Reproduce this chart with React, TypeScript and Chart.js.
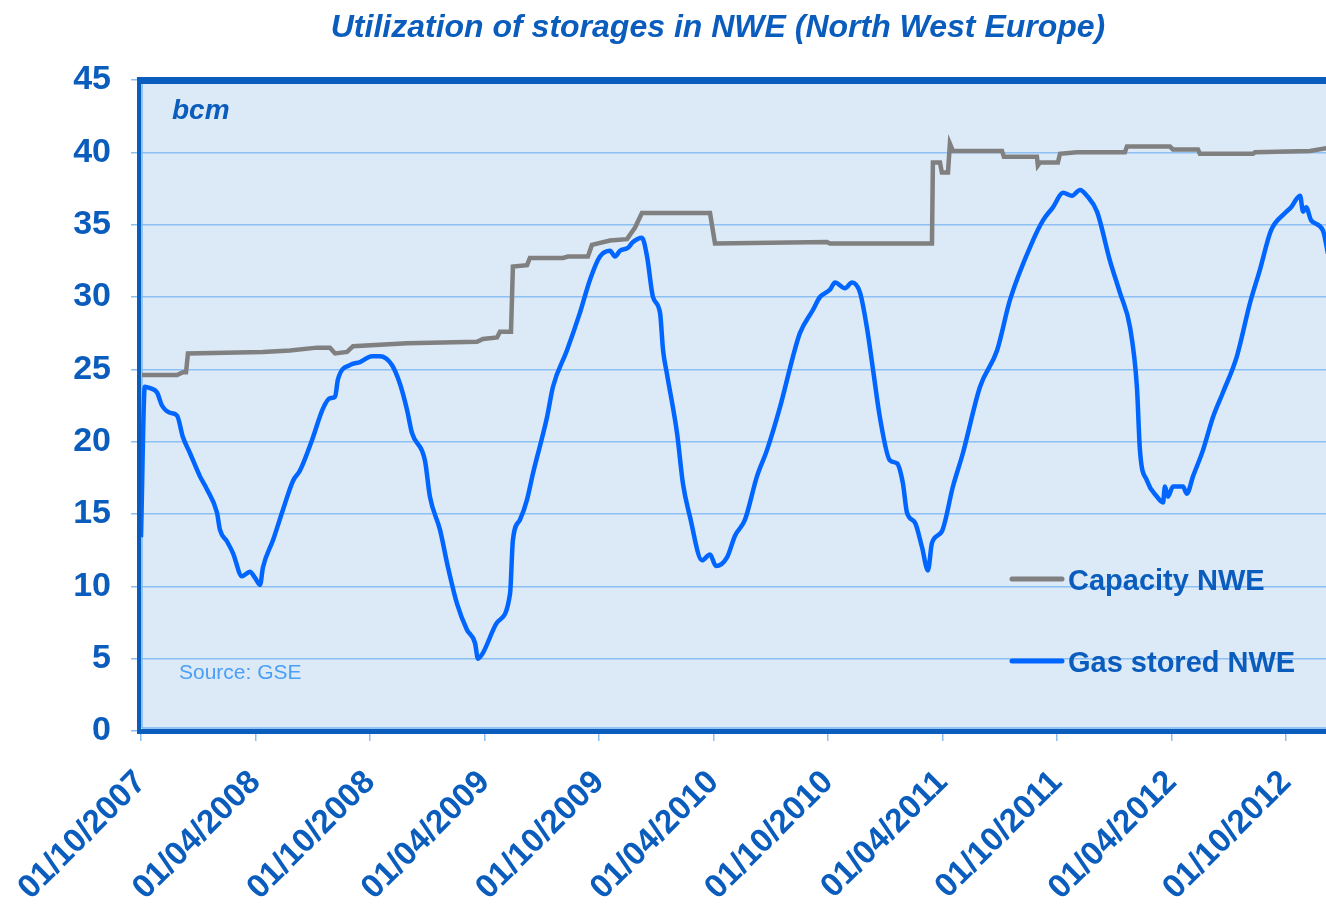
import React, { useEffect, useRef } from "react";
import { Chart, registerables } from "chart.js";

Chart.register(...registerables);

const TITLE = "Utilization of storages in NWE (North West Europe)";
const UNIT_LABEL = "bcm";
const SOURCE_LABEL = "Source: GSE";
const SERIES_NAMES = ["Gas stored NWE", "Capacity NWE"];

// x values: months since 01/10/2007
const tickMonths = [0, 6, 12, 18, 24, 30, 36, 42, 48, 54, 60];
const tickLabels = [
  "01/10/2007", "01/04/2008", "01/10/2008", "01/04/2009", "01/10/2009", "01/04/2010",
  "01/10/2010", "01/04/2011", "01/10/2011", "01/04/2012", "01/10/2012",
];
const yTickStep = 5;
const yMin = 0;
const yMax = 45;
const xMax = 62.1;

const storedMonths = [
  0, 0.2, 0.47, 0.84, 1.1, 1.52, 1.89, 2.2, 2.57, 3.09,
  3.46, 3.98, 4.14, 4.51, 4.82, 5.29, 5.71, 5.97, 6.24, 6.39,
  6.92, 7.44, 7.97, 8.33, 8.96, 9.54, 9.9, 10.17, 10.32, 10.95,
  11.48, 12.1, 12.52, 13.15, 13.57, 13.94, 14.2, 14.88, 15.14, 15.67,
  16.09, 16.56, 17.08, 17.5, 17.66, 17.92, 18.66, 19.34, 19.49, 19.86,
  20.23, 20.54, 21.28, 21.59, 22.32, 23.0, 23.53, 24.05, 24.58, 24.84,
  25.1, 25.52, 25.78, 26.25, 26.52, 26.83, 27.2, 27.36, 27.56, 28.09,
  28.4, 28.77, 29.4, 29.82, 30.13, 30.71, 31.13, 31.65, 32.28, 32.8,
  33.49, 34.17, 34.53, 35.21, 35.58, 36.1, 36.37, 36.89, 37.26, 37.68,
  38.04, 38.36, 38.72, 39.25, 39.62, 39.93, 40.14, 40.56, 40.93, 41.24,
  41.45, 41.97, 42.55, 43.07, 43.97, 44.86, 45.54, 46.74, 47.27, 47.79,
  48.32, 48.79, 49.21, 49.57, 50.1, 50.78, 51.3, 51.83, 52.19, 52.35,
  52.72, 53.24, 53.56, 53.66, 53.82, 54.08, 54.6, 54.81, 55.13, 55.65,
  56.18, 56.7, 57.43, 58.12, 58.64, 59.22, 59.95, 60.27, 60.74, 60.9,
  61.06, 61.32, 61.94, 62.2,
];
const storedBcm = [
  13.4, 23.8, 23.7, 23.4, 22.5, 22.0, 21.8, 20.3, 19.2, 17.6,
  16.7, 15.1, 13.9, 13.1, 12.3, 10.7, 11.0, 10.6, 10.1, 11.3,
  13.2, 15.3, 17.3, 18.0, 20.1, 22.3, 23.0, 23.1, 24.3, 25.3,
  25.5, 25.9, 25.9, 25.3, 24.0, 22.2, 20.6, 18.7, 16.2, 13.9,
  11.3, 8.8, 7.0, 6.1, 5.0, 5.4, 7.5, 9.5, 13.2, 14.6,
  16.0, 17.8, 21.7, 23.8, 26.3, 28.9, 31.2, 32.8, 33.2, 32.8,
  33.2, 33.4, 33.8, 34.1, 32.8, 30.0, 28.9, 26.3, 24.7, 20.6,
  17.1, 14.8, 11.8, 12.2, 11.4, 12.0, 13.5, 14.6, 17.6, 19.4,
  22.4, 25.9, 27.5, 29.1, 30.0, 30.5, 31.0, 30.6, 31.0, 30.3,
  27.9, 25.0, 21.7, 18.7, 18.5, 17.1, 15.1, 14.4, 12.7, 11.1,
  13.0, 13.8, 16.9, 19.2, 23.8, 26.3, 29.8, 33.9, 35.3, 36.2,
  37.2, 37.0, 37.4, 37.0, 35.9, 32.5, 30.3, 27.9, 23.8, 19.4,
  17.3, 16.2, 15.8, 16.9, 16.2, 16.9, 16.9, 16.4, 17.6, 19.4,
  21.7, 23.4, 25.9, 29.6, 31.9, 34.6, 35.8, 36.2, 37.0, 35.9,
  36.2, 35.3, 34.6, 33.0,
];

const capMonths = [
  0.05, 1.89, 2.2, 2.36, 2.46, 6.39, 7.81, 9.22, 9.9, 10.17,
  10.8, 11.11, 13.94, 17.61, 17.92, 18.66, 18.81, 19.39, 19.49, 20.23,
  20.38, 22.11, 22.38, 23.42, 23.63, 24.58, 25.47, 25.89, 26.25, 29.82,
  30.08, 35.95, 36.1, 41.45, 41.5, 41.87, 41.97, 42.29, 42.39, 42.55,
  45.12, 45.22, 46.95, 47.0, 47.11, 48.05, 48.16, 49.05, 51.56, 51.67,
  53.92, 54.08, 55.39, 55.49, 58.27, 58.38, 61.26, 62.2,
];
const capBcm = [
  24.6, 24.6, 24.8, 24.8, 26.1, 26.2, 26.3, 26.5, 26.5, 26.1,
  26.2, 26.6, 26.8, 26.9, 27.1, 27.2, 27.6, 27.6, 32.1, 32.2,
  32.7, 32.7, 32.8, 32.8, 33.6, 33.9, 34.0, 34.8, 35.8, 35.8,
  33.7, 33.8, 33.7, 33.7, 39.3, 39.3, 38.6, 38.6, 40.6, 40.1,
  40.1, 39.7, 39.7, 39.1, 39.3, 39.3, 39.9, 40.0, 40.0, 40.4,
  40.4, 40.2, 40.2, 39.9, 39.9, 40.0, 40.1, 40.3,
];

const FONT = '"Liberation Sans", Arial, Helvetica, sans-serif';
const TEXT_BLUE = "#0a5cbd";
const LINE_BLUE = "#0066ff";
const LINE_GRAY = "#808080";
const GRID_BLUE = "#8cc0f5";
const BG = "#dce9f6";

const decorPlugin = {
  id: "decor",
  beforeDraw(chart: any) {
    const { ctx, chartArea: a } = chart;
    ctx.save();
    ctx.fillStyle = BG;
    ctx.fillRect(a.left, a.top, a.right - a.left, a.bottom - a.top);
    ctx.restore();
  },
  beforeDatasetsDraw(chart: any) {
    const { ctx, chartArea: a } = chart;
    const w = chart.width - a.left + 10;
    ctx.save();
    ctx.fillStyle = TEXT_BLUE;
    ctx.fillRect(a.left - 4, a.top - 3, w, 7);
    ctx.fillRect(a.left - 4, a.top - 3, 4, a.bottom - a.top + 6);
    ctx.fillRect(a.left - 4, a.bottom - 2, w, 5);
    ctx.strokeStyle = "#7ab6f5";
    ctx.lineWidth = 1.5;
    ctx.beginPath();
    ctx.moveTo(a.left + 1, a.top + 4);
    ctx.lineTo(a.left + 1, a.bottom - 3);
    ctx.moveTo(a.left + 1, a.bottom - 3);
    ctx.lineTo(chart.width, a.bottom - 3);
    ctx.stroke();
    ctx.restore();
  },
  afterDraw(chart: any) {
    const { ctx, chartArea: a } = chart;
    ctx.save();
    ctx.textBaseline = "alphabetic";
    ctx.fillStyle = TEXT_BLUE;
    ctx.textAlign = "center";
    ctx.font = `italic bold 32px ${FONT}`;
    ctx.fillText(TITLE, 718, 37);

    ctx.textAlign = "left";
    ctx.font = `italic bold 28px ${FONT}`;
    ctx.fillText(UNIT_LABEL, a.left + 31, a.top + 39);

    ctx.font = `21px ${FONT}`;
    ctx.fillStyle = "#4a9ff5";
    ctx.fillText(SOURCE_LABEL, a.left + 38, 679);

    const items = [
      { label: SERIES_NAMES[1], color: LINE_GRAY, y: 579 },
      { label: SERIES_NAMES[0], color: LINE_BLUE, y: 661 },
    ];
    for (const it of items) {
      ctx.strokeStyle = it.color;
      ctx.lineWidth = 5;
      ctx.lineCap = "round";
      ctx.beginPath();
      ctx.moveTo(1012, it.y);
      ctx.lineTo(1062, it.y);
      ctx.stroke();
      ctx.fillStyle = TEXT_BLUE;
      ctx.font = `bold 29px ${FONT}`;
      ctx.fillText(it.label, 1068, it.y + 11);
    }
    ctx.restore();
  },
};

export default function App() {
  const canvasRef = useRef<HTMLCanvasElement | null>(null);

  useEffect(() => {
    const canvas = canvasRef.current;
    if (!canvas) return;
    const stored = storedMonths.map((m, i) => ({ x: m, y: storedBcm[i] }));
    const capacity = capMonths.map((m, i) => ({ x: m, y: capBcm[i] }));

    const chart = new Chart(canvas, {
      type: "line",
      data: {
        datasets: [
          {
            label: SERIES_NAMES[0],
            data: stored,
            borderColor: LINE_BLUE,
            borderWidth: 4.5,
            pointRadius: 0,
            cubicInterpolationMode: "monotone",
            borderJoinStyle: "round",
            fill: false,
          },
          {
            label: SERIES_NAMES[1],
            data: capacity,
            borderColor: LINE_GRAY,
            borderWidth: 4.5,
            pointRadius: 0,
            tension: 0,
            fill: false,
          },
        ],
      },
      options: {
        responsive: false,
        animation: false,
        devicePixelRatio: 1,
        layout: { padding: { top: 80, left: 0, right: 0, bottom: 0 } },
        plugins: {
          legend: { display: false },
          tooltip: { enabled: false },
          title: { display: false },
        },
        scales: {
          x: {
            type: "linear",
            min: 0,
            max: xMax,
            afterBuildTicks: (s: any) => {
              s.ticks = tickMonths.map((v) => ({ value: v }));
            },
            afterFit: (s: any) => {
              s.height = 175;
              s.paddingLeft = 0;
              s.paddingRight = 0;
            },
            ticks: {
              autoSkip: false,
              minRotation: 45,
              maxRotation: 45,
              padding: 22,
              color: TEXT_BLUE,
              font: { family: FONT, size: 33, weight: "bold" },
              callback: (_v: any, i: number) => tickLabels[i],
            },
            grid: {
              drawOnChartArea: false,
              drawTicks: true,
              tickLength: 10,
              color: GRID_BLUE,
              lineWidth: 1.5,
            },
            border: { display: false },
          },
          y: {
            min: yMin,
            max: yMax,
            afterFit: (s: any) => {
              s.width = 141;
              s.paddingTop = 0;
              s.paddingBottom = 0;
            },
            ticks: {
              stepSize: yTickStep,
              padding: 20,
              color: TEXT_BLUE,
              font: { family: FONT, size: 34, weight: "bold" },
            },
            grid: {
              color: (c: any) =>
                c.tick && (c.tick.value === yMin || c.tick.value === yMax) ? "rgba(0,0,0,0)" : GRID_BLUE,
              tickColor: GRID_BLUE,
              lineWidth: 1.5,
              tickLength: 10,
            },
            border: { display: false },
          },
        },
      },
      plugins: [decorPlugin],
    });

    return () => chart.destroy();
  }, []);

  return (
    <div style={{ position: "fixed", left: 0, top: 0, width: 1326, height: 906, background: "#ffffff" }}>
      <canvas ref={canvasRef} width={1326} height={906} style={{ display: "block" }} />
    </div>
  );
}
